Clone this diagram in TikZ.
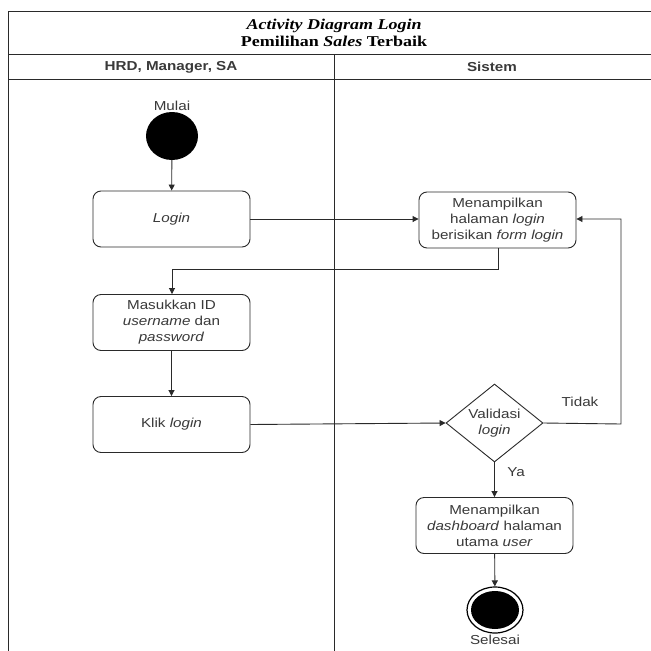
\documentclass[tikz,border=0pt]{standalone}
\usepackage{fontspec}
\setmainfont[FakeStretch=1.17]{Liberation Sans}
\newfontfamily\titlefont[FakeStretch=1.2]{Liberation Serif}
\usetikzlibrary{arrows.meta,shapes.geometric,positioning}
\definecolor{inkgray}{HTML}{3A3A3A}
\definecolor{linegray}{HTML}{2A2A2A}
\tikzset{
  act/.style={draw=linegray, line width=0.9pt, rounded corners=8pt, fill=white,
    minimum width=157pt, minimum height=56pt, align=center, text=inkgray,
    font=\fontsize{13}{16}\selectfont, inner sep=1pt},
  decide/.style={draw=linegray, line width=0.9pt, diamond, aspect=1.25, fill=white,
    minimum width=97pt, minimum height=78pt, align=center, text=inkgray,
    font=\fontsize{13}{16}\selectfont, inner sep=0pt},
  flow/.style={draw=linegray, line width=0.9pt, -{Triangle[length=6pt,width=6pt]}},
  lbl/.style={text=inkgray, font=\fontsize{13}{15}\selectfont, inner sep=1pt},
  lanehead/.style={text=inkgray, font=\bfseries\fontsize{13}{15}\selectfont},
  frameline/.style={draw=linegray, line width=1pt},
}
\begin{document}
\begin{tikzpicture}[x=1pt,y=-1pt]
\useasboundingbox (0,0) rectangle (651,651);
\fill[white] (0,0) rectangle (651,651);

% swimlane frame
\draw[frameline] (8,651) -- (8,11) -- (651,11);
\draw[frameline] (8,54) -- (651,54);
\draw[frameline] (8,79) -- (651,79);
\draw[frameline] (334,54) -- (334,651);

% title and lane headers
\node[font=\titlefont\bfseries\fontsize{15}{17}\selectfont, align=center, inner sep=0pt] (title) at (334,33)
  {\textit{Activity Diagram Login}\\Pemilihan \textit{Sales} Terbaik};
\node[lanehead] (laneA) at (171,67) {HRD, Manager, SA};
\node[lanehead] (laneB) at (492,67) {Sistem};

% start and end
\node[ellipse, fill=black, minimum width=52pt, minimum height=48pt, inner sep=0pt] (start) at (172,136) {};
\node[lbl, above=0pt of start] (startlbl) {Mulai};
\node[ellipse, draw=black, line width=1.2pt, fill=white, minimum width=56pt, minimum height=46pt, inner sep=0pt] (stop) at (495,610) {};
\node[ellipse, fill=black, minimum width=48pt, minimum height=38pt, inner sep=0pt] (stopin) at (495,610) {};
\node[lbl, below=0pt of stop] (stoplbl) {Selesai};

% activities
\node[act] (login) at (171.5,219) {\textit{Login}};
\node[act] (tampil) at (497.5,220) {Menampilkan\\halaman \textit{login}\\berisikan \textit{form login}};
\node[act] (masuk) at (171.5,322.5) {Masukkan ID\\\textit{username} dan\\\textit{password}};
\node[act] (klik) at (171.5,424.5) {Klik \textit{login}};
\node[decide] (valid) at (494.5,423) {Validasi\\\textit{login}};
\node[act] (dash) at (494.5,525.5) {Menampilkan\\\textit{dashboard} halaman\\utama \textit{user}};

% flows
\draw[flow] (start) -- (login);
\draw[flow] (login) -- (login.east -| tampil.west);
\draw[flow] (tampil.south -| 498,0) -- (498,269) -- (172,269) -- (masuk.north -| 172,0);
\draw[flow] (masuk) -- (klik);
\draw[flow] (klik.east) -- (valid.west);
\draw[flow] (valid.east) -- (621,424) -- (621,219) -- (tampil.east |- 0,219);
\draw[flow] (valid.south) -- (dash.north);
\draw[flow] (dash) -- (stop);

% guard labels
\node[lbl] (tidak) at (580,402) {Tidak};
\node[lbl] (ya) at (516,472) {Ya};
\end{tikzpicture}
\end{document}
